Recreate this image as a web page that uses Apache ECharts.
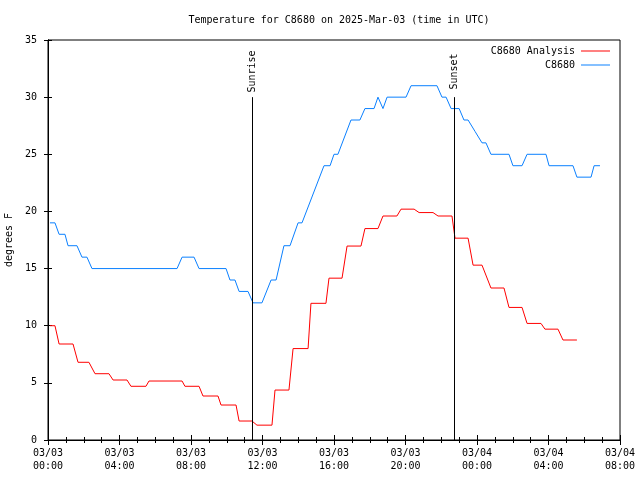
<!DOCTYPE html>
<html>
<head>
<meta charset="utf-8">
<script src="https://cdn.jsdelivr.net/npm/echarts@6/dist/echarts.min.js"></script>
<style>
html,body{margin:0;padding:0;background:#fff;}
#chart{width:640px;height:480px;}
</style>
</head>
<body>
<div id="chart"></div>
<script>
// Hours since 2025-03-03 00:00 UTC
const analysisHours = [0.11,0.39,0.62,1.40,1.68,2.29,2.63,3.41,3.64,4.42,4.64,5.48,5.65,7.50,7.66,8.45,8.67,9.51,9.68,10.52,10.69,11.41,11.69,12.53,12.70,13.48,13.71,14.55,14.71,15.55,15.72,16.45,16.73,17.51,17.73,18.46,18.74,19.52,19.75,20.48,20.76,21.54,21.82,22.60,22.77,23.50,23.78,24.28,24.78,25.51,25.79,26.52,26.80,27.58,27.80,28.53,28.81,29.59];
const analysisTemps = [10,10,8.4,8.4,6.8,6.8,5.8,5.8,5.25,5.25,4.7,4.7,5.16,5.16,4.7,4.7,3.85,3.85,3.06,3.06,1.66,1.66,1.3,1.3,4.37,4.37,8.0,8.0,11.96,11.96,14.16,14.16,16.97,16.97,18.5,18.5,19.6,19.6,20.2,20.2,19.9,19.9,19.6,19.6,17.66,17.66,15.3,15.3,13.3,13.3,11.6,11.6,10.2,10.2,9.7,9.7,8.75,8.75];

const obsHours = [0.11,0.39,0.62,0.95,1.12,1.62,1.90,2.18,2.46,7.22,7.50,8.17,8.45,9.96,10.18,10.46,10.69,11.19,11.47,11.97,12.48,12.76,13.20,13.54,13.99,14.21,15.44,15.78,16.00,16.22,16.95,17.45,17.73,18.24,18.46,18.74,18.97,20.03,20.31,21.76,22.04,22.27,22.55,23.00,23.27,23.50,23.89,24.00,24.28,24.50,24.78,25.79,26.01,26.52,26.80,27.86,28.03,29.37,29.59,30.38,30.55,30.88];
const obsTemps = [19,19,18,18,17,17,16,16,15,15,16,16,15,15,14,14,13,13,12,12,14,14,17,17,19,19,24,24,25,25,28,28,29,29,30,29,30,30,31,31,30,30,29,29,28,28,27,27,26,26,25,25,24,24,25,25,24,24,23,23,24,24];

const xTickLabels = ['03/03\n00:00','03/03\n04:00','03/03\n08:00','03/03\n12:00','03/03\n16:00','03/03\n20:00','03/04\n00:00','03/04\n04:00','03/04\n08:00'];
const sunriseHour = 11.41;
const sunsetHour = 22.71;
const seriesNames = ['C8680 Analysis','C8680'];
const titleText = 'Temperature for C8680 on 2025-Mar-03 (time in UTC)';

const FONT = '"DejaVu Sans Mono", "Liberation Mono", monospace';
const zip = (xs, ys) => xs.map((x, i) => [x, ys[i]]);

const chart = echarts.init(document.getElementById('chart'), null, {renderer: 'canvas'});

const xCommon = {
  type: 'value', min: 0, max: 32, interval: 4,
  axisLine: {show: true, lineStyle: {color: '#000', width: 1}},
  axisTick: {show: true, inside: true, length: 5, lineStyle: {color: '#000'}},
  minorTick: {show: true, splitNumber: 4, length: 3, lineStyle: {color: '#000'}},
  splitLine: {show: false}, minorSplitLine: {show: false}
};
const yCommon = {
  type: 'value', min: 0, max: 35, interval: 5,
  axisLine: {show: true, lineStyle: {color: '#000', width: 1}},
  axisTick: {show: true, inside: true, length: 4, lineStyle: {color: '#000'}},
  splitLine: {show: false}
};

const markLabel = (h, txt) => ({
  coord: [h, 32.25], symbol: 'circle', symbolSize: 0,
  label: {show: true, formatter: txt, rotate: 90, position: 'inside', color: '#000', fontFamily: FONT, fontSize: 10}
});

const legendItem = (name, top) => ({
  data: [name], right: 30, top: top, orient: 'vertical', align: 'right', padding: 0,
  itemWidth: 29, itemHeight: 1, itemGap: 6, icon: 'rect', selectedMode: false,
  textStyle: {fontFamily: FONT, fontSize: 10, color: '#000', padding: [0, 1, 0, 0]}
});

chart.setOption({
  animation: false,
  backgroundColor: '#fff',
  textStyle: {fontFamily: FONT},
  title: {
    text: titleText, left: 334, top: 10, textAlign: 'center',
    textStyle: {fontFamily: FONT, fontSize: 10, fontWeight: 'normal', color: '#000'}
  },
  grid: {left: 48, right: 20, top: 40, bottom: 40, show: true, borderColor: '#000', borderWidth: 1,
         containLabel: false, outerBoundsMode: 'none'},
  legend: [legendItem(seriesNames[0], 46), legendItem(seriesNames[1], 60)],
  xAxis: [
    Object.assign({}, xCommon, {
      position: 'bottom',
      axisLabel: {show: true, margin: 7, color: '#000', fontFamily: FONT, fontSize: 10, lineHeight: 13,
        formatter: v => xTickLabels[Math.round(v / 4)] || ''}
    }),
    Object.assign({}, xCommon, {position: 'top', axisLabel: {show: false}})
  ],
  yAxis: [
    Object.assign({}, yCommon, {
      position: 'left',
      name: 'degrees F', nameLocation: 'middle', nameGap: 33, nameRotate: 90,
      nameTextStyle: {fontFamily: FONT, fontSize: 10, color: '#000'},
      axisLabel: {show: true, margin: 11, color: '#000', fontFamily: FONT, fontSize: 10}
    }),
    Object.assign({}, yCommon, {position: 'right', axisLabel: {show: false}})
  ],
  series: [
    {
      name: seriesNames[0], type: 'line', xAxisIndex: 0, yAxisIndex: 0,
      data: zip(analysisHours, analysisTemps), showSymbol: false, symbol: 'none',
      lineStyle: {color: '#ff0000', width: 1}, itemStyle: {color: '#ff0000'},
      emphasis: {disabled: true}, silent: true, z: 3
    },
    {
      name: seriesNames[1], type: 'line', xAxisIndex: 0, yAxisIndex: 0,
      data: zip(obsHours, obsTemps), showSymbol: false, symbol: 'none',
      lineStyle: {color: '#0a80ff', width: 1}, itemStyle: {color: '#0a80ff'},
      emphasis: {disabled: true}, silent: true, z: 3,
      markLine: {
        silent: true, symbol: ['none', 'none'], label: {show: false},
        lineStyle: {color: '#000', width: 1, type: 'solid'},
        data: [
          [{coord: [sunriseHour, 0]}, {coord: [sunriseHour, 30]}],
          [{coord: [sunsetHour, 0]}, {coord: [sunsetHour, 30]}]
        ]
      },
      markPoint: {
        silent: true,
        data: [markLabel(sunriseHour, 'Sunrise'), markLabel(sunsetHour, 'Sunset')]
      }
    }
  ]
});
</script>
</body>
</html>
